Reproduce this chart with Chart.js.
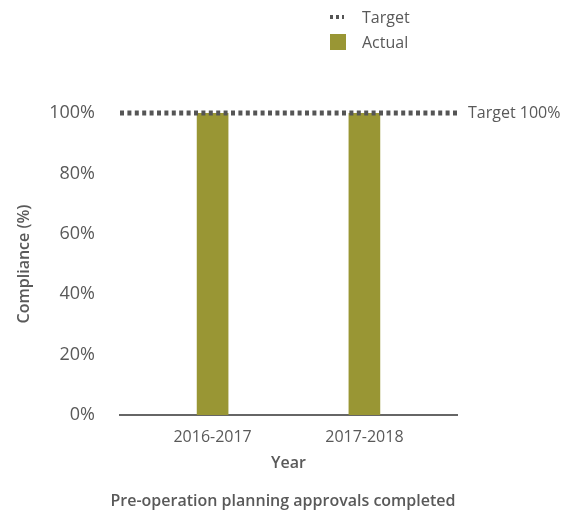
<!DOCTYPE html>
<html><head><meta charset="utf-8">
<script src="https://cdn.jsdelivr.net/npm/chart.js@4/dist/chart.umd.min.js"></script>
<style>
html,body{margin:0;padding:0;background:#fff;}
#wrap{position:relative;width:566px;height:514px;}
#legend{position:absolute;left:330px;top:4px;font-family:'Open Sans',sans-serif;font-size:16px;color:#595959;}
.li{display:flex;align-items:center;height:25px;}
.sym{width:16px;margin-right:16px;}
</style></head>
<body>
<div id="wrap"><canvas id="c" width="566" height="514"></canvas><div id="legend"></div></div>
<script>
const categories = ['2016-2017', '2017-2018'];
const actual = [100, 100];
const target = [100, 100];
const yTicks = [0, 20, 40, 60, 80, 100];
const targetLabel = 'Target 100%';
const chartTitle = 'Pre-operation planning approvals completed';

const X_MIN = -0.61, X_MAX = 1.61;
const FONT = "'Open Sans', sans-serif";
const textColor = '#595959';
const barColor = '#999634';
const lineColor = '#555555';

const extras = {
  id: 'extras',
  afterDatasetsDraw(chart) {
    const {ctx, chartArea, scales, width, height} = chart;
    const y = scales.y.getPixelForValue(target[target.length - 1]);
    ctx.save();
    ctx.font = '16px ' + FONT;
    ctx.fillStyle = textColor;
    ctx.textBaseline = 'middle';
    ctx.textAlign = 'left';
    ctx.fillText(targetLabel, chartArea.right + 11, y);
    ctx.font = '600 16px ' + FONT;
    ctx.textAlign = 'center';
    ctx.fillText(chartTitle, width / 2, height - 13);
    ctx.restore();
  }
};

const chart = new Chart(document.getElementById('c'), {
  data: {
    datasets: [
      {
        type: 'line', label: 'Target',
        data: [{x: X_MIN, y: target[0]}, {x: X_MAX, y: target[target.length - 1]}],
        borderColor: lineColor, borderWidth: 5, borderDash: [4, 3.4],
        pointRadius: 0, fill: false, order: 0, clip: false
      },
      {
        type: 'bar', label: 'Actual',
        data: categories.map((c, i) => ({x: i, y: actual[i]})),
        backgroundColor: barColor, barThickness: 31, order: 1
      }
    ]
  },
  options: {
    responsive: false, animation: false,
    layout: {padding: {top: 113, right: 109, left: 0, bottom: 41}},
    plugins: {
      legend: {display: false},
      tooltip: {enabled: false}
    },
    scales: {
      x: {
        type: 'linear', min: X_MIN, max: X_MAX, offset: false,
        afterBuildTicks(scale) { scale.ticks = categories.map((c, i) => ({value: i})); },
        afterFit(scale) { scale.height = 58; scale.paddingLeft = 0; scale.paddingRight = 0; },
        ticks: {callback: (v) => categories[v], color: textColor, font: {family: FONT, size: 16}, padding: 13, autoSkip: false, maxRotation: 0},
        grid: {display: false, drawTicks: false},
        border: {display: true, color: '#666', width: 2},
        title: {display: true, text: 'Year', color: textColor, font: {family: FONT, size: 16, weight: '600'}, padding: {top: 0, bottom: 0}}
      },
      y: {
        min: 0, max: 100,
        afterBuildTicks(scale) { scale.ticks = yTicks.map(v => ({value: v})); },
        afterFit(scale) { scale.width = 120; },
        ticks: {callback: (v) => v + '%', color: textColor, font: {family: FONT, size: 18}, padding: 25},
        grid: {display: false, drawTicks: false},
        border: {display: false},
        title: {display: true, text: 'Compliance (%)', color: textColor, font: {family: FONT, size: 16, weight: '600'}, padding: {top: 15, bottom: 0}}
      }
    }
  },
  plugins: [extras]
});

// HTML legend built from datasets
const leg = document.getElementById('legend');
chart.data.datasets.forEach(ds => {
  const row = document.createElement('div'); row.className = 'li';
  const s = document.createElement('div'); s.className = 'sym';
  if (ds.type === 'line') {
    s.style.height = '4px';
    s.style.background = `repeating-linear-gradient(90deg, ${ds.borderColor} 0 3px, transparent 3px 6px)`;
    s.style.width = '14px';
    s.style.marginRight = '18px';
  } else {
    s.style.height = '16px';
    s.style.background = ds.backgroundColor;
  }
  const t = document.createElement('span'); t.textContent = ds.label;
  row.appendChild(s); row.appendChild(t); leg.appendChild(row);
});
</script>
</body></html>
